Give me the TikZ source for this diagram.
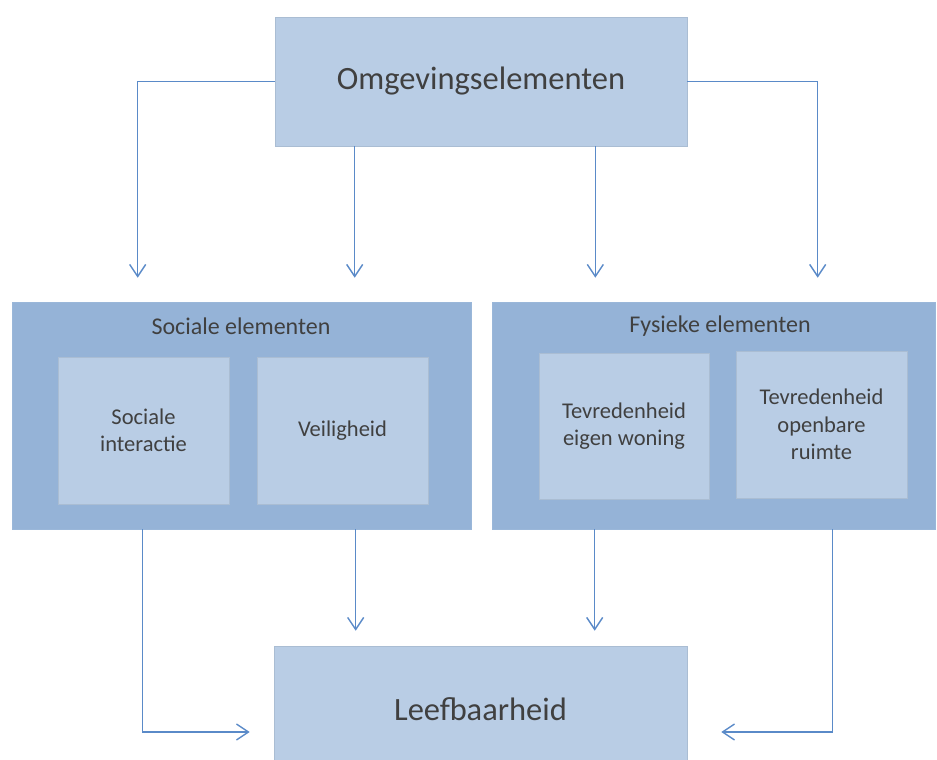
\documentclass[tikz,border=0pt]{standalone}
\usepackage{fontspec}
\setmainfont{Carlito}
\usetikzlibrary{arrows.meta,calc}
\definecolor{lightbox}{HTML}{B9CDE5}
\definecolor{darkbox}{HTML}{95B3D7}
\definecolor{arrowblue}{HTML}{5A8AC8}
\definecolor{txt}{HTML}{404040}
\begin{document}
\begin{tikzpicture}[x=1pt,y=1pt,
  lbox/.style={fill=lightbox, draw=lightbox!92!black, line width=0.6pt, inner sep=0pt, text=txt, align=center},
  dbox/.style={fill=darkbox, draw=darkbox!95!white, line width=0.6pt, inner sep=0pt},
  bigtext/.style={font=\fontsize{32.5}{38}\selectfont},
  smalltext/.style={font=\fontsize{22.5}{27.5}\selectfont},
  ttl/.style={text=txt, inner sep=0pt, font=\fontsize{24}{28}\selectfont},
  arr/.style={draw=arrowblue, line width=1.4pt, -{Straight Barb[length=12pt,width=16pt,line width=1.4pt]}}]
\useasboundingbox (0,0) rectangle (937,-760);
\clip (0,0) rectangle (937,-760);
% top box
\node[lbox, bigtext, minimum width=412, minimum height=129] (top) at (481,-81.5) {Omgevingselementen};
% outer boxes
\node[dbox, minimum width=459, minimum height=227] (soc) at (241.5,-415.5) {};
\node[dbox, minimum width=443, minimum height=227] (fys) at (713.5,-415.5) {};
\node[ttl] (soct) at (241,-326) {Sociale elementen};
\node[ttl] (fyst) at (720,-326) {Fysieke elementen};
% inner boxes
\node[lbox, smalltext, minimum width=171, minimum height=147] (si) at (143.5,-430.5) {Sociale\\interactie};
\node[lbox, smalltext, minimum width=171, minimum height=147] (vei) at (342.5,-430.5) {Veiligheid};
\node[lbox, smalltext, minimum width=170, minimum height=146] (eig) at (624,-426) {Tevredenheid\\eigen woning};
\node[lbox, smalltext, minimum width=171, minimum height=147] (opb) at (821.5,-424.5) {Tevredenheid\\openbare\\ruimte};
% bottom box
\node[lbox, bigtext, minimum width=413, minimum height=126] (leef) at (480.5,-709) {Leefbaarheid};
% helper coordinates
\path ($(soc.north west)+(126,0)$) coordinate (t1)
      ($(top.south west)+(80,0)$) coordinate (t2)
      ($(top.south east)+(-92,0)$) coordinate (t3)
      ($(fys.north west)+(326,0)$) coordinate (t4)
      ($(soc.south west)+(131,0)$) coordinate (b1)
      ($(soc.south west)+(344,0)$) coordinate (b2)
      ($(fys.south west)+(103,0)$) coordinate (b3)
      ($(fys.south west)+(341,0)$) coordinate (b4)
      ($(leef.west)+(0,-23)$) coordinate (lw)
      ($(leef.east)+(0,-23)$) coordinate (le);
% arrows from top
\draw[arr, shorten >=24pt] (top.west) -| (t1);
\draw[arr, shorten >=24pt] (t2) -- (t2 |- soc.north);
\draw[arr, shorten >=24pt] (t3) -- (t3 |- fys.north);
\draw[arr, shorten >=24pt] (top.east) -| (t4);
% arrows to bottom
\draw[arr, shorten >=24pt] (b1) |- (lw);
\draw[arr, shorten >=15pt] (b2) -- (b2 |- leef.north);
\draw[arr, shorten >=15pt] (b3) -- (b3 |- leef.north);
\draw[arr, shorten >=34pt] (b4) |- (le);
\end{tikzpicture}
\end{document}
